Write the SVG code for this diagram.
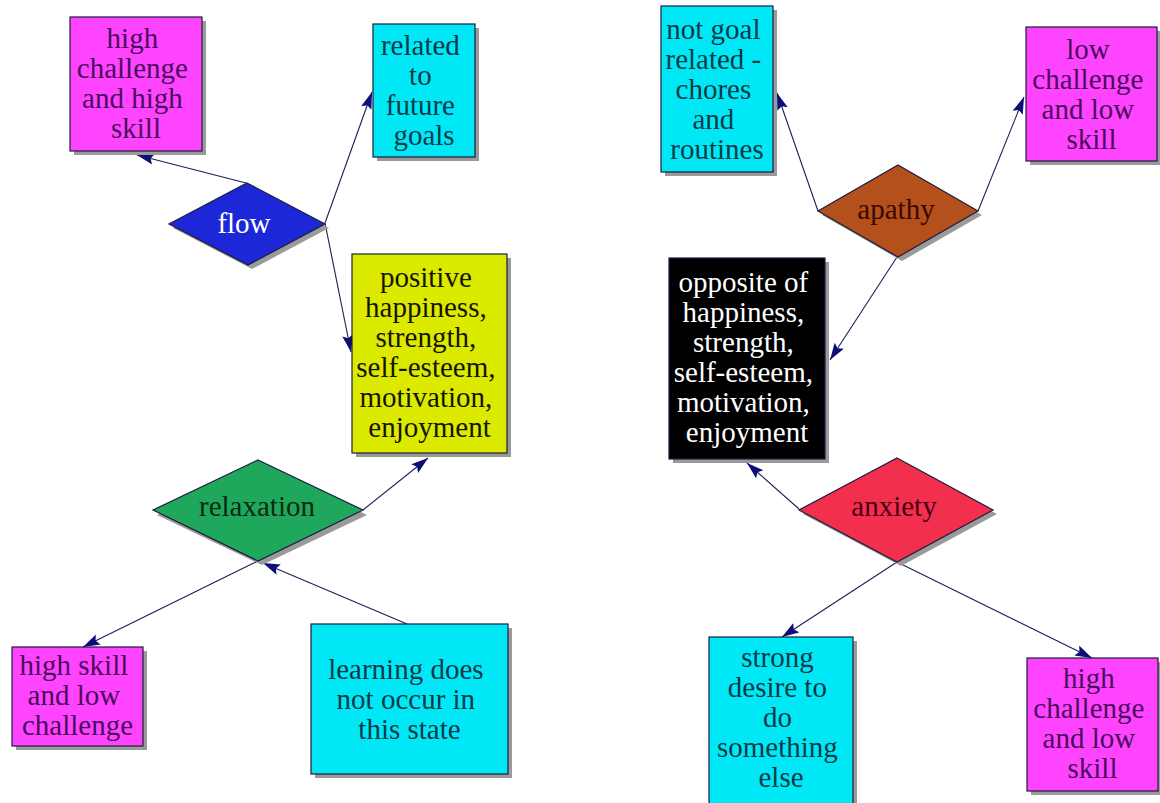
<svg xmlns="http://www.w3.org/2000/svg" width="1160" height="803" viewBox="0 0 1160 803">
  <defs>
    <marker id="arrow" markerUnits="userSpaceOnUse" markerWidth="19" markerHeight="12" refX="17" refY="5.5" orient="auto">
      <path d="M0,0 L17,5.5 L0,11 L3,5.5 z" fill="#0e0e78"/>
    </marker>
    <style>
      .shadow { fill: #9a9a9a; }
      .box { stroke: #1c1c3c; stroke-width: 1.2; }
      text { font-family: 'Liberation Serif', 'DejaVu Serif', serif; font-size: 29px; text-anchor: middle; }
      .magenta { fill: #ff44ff; }
      .cyan { fill: #00e8f6; }
      .yellow { fill: #dcea00; }
      .black { fill: #000000; }
      .t-magenta { fill: #4a0c5c; }
      .t-cyan { fill: #0b3a48; }
      .t-yellow { fill: #161600; }
      .t-white { fill: #ffffff; }
      .edge { stroke: #1e1e5a; stroke-width: 1.1; fill: none; marker-end: url(#arrow); }
    </style>
  </defs>

  <rect width="1160" height="803" fill="#ffffff"/>

  <!-- connectors -->
  <g id="connectors">
    <line class="edge" x1="246" y1="183" x2="137" y2="155"/>
    <line class="edge" x1="325" y1="223" x2="372" y2="92"/>
    <line class="edge" x1="325" y1="223" x2="351" y2="352"/>
    <line class="edge" x1="363" y1="510" x2="428" y2="458"/>
    <line class="edge" x1="258" y1="561" x2="83" y2="647"/>
    <line class="edge" x1="407" y1="624" x2="263" y2="563"/>
    <line class="edge" x1="818" y1="211" x2="777" y2="93"/>
    <line class="edge" x1="978" y1="211" x2="1024" y2="97"/>
    <line class="edge" x1="897" y1="257" x2="830" y2="360"/>
    <line class="edge" x1="799" y1="509" x2="747" y2="463"/>
    <line class="edge" x1="897" y1="562" x2="782" y2="637"/>
    <line class="edge" x1="897" y1="562" x2="1092" y2="658"/>
  </g>

  <!-- left cluster -->
  <g id="high-challenge-high-skill">
    <rect class="shadow" x="74" y="21" width="132" height="134"/>
    <rect class="box magenta" x="70" y="17" width="132" height="134"/>
    <text class="t-magenta" font-family="Liberation Serif, serif">
      <tspan x="136" y="48">high</tspan>
      <tspan x="136" y="78">challenge</tspan>
      <tspan x="136" y="108">and high</tspan>
      <tspan x="136" y="138">skill</tspan>
    </text>
  </g>

  <g id="related-to-future-goals">
    <rect class="shadow" x="377" y="28" width="102" height="133"/>
    <rect class="box cyan" x="373" y="24" width="102" height="133"/>
    <text class="t-cyan" font-family="Liberation Serif, serif">
      <tspan x="424" y="55">related</tspan>
      <tspan x="424" y="85">to</tspan>
      <tspan x="424" y="115">future</tspan>
      <tspan x="424" y="145">goals</tspan>
    </text>
  </g>

  <g id="flow">
    <polygon class="shadow" points="251,187 329,228 252,269 173,228"/>
    <polygon class="box" points="247,183 325,224 248,265 169,224" fill="#1c28d8"/>
    <text class="t-white" font-family="Liberation Serif, serif" x="244" y="233">flow</text>
  </g>

  <g id="positive">
    <rect class="shadow" x="356" y="258" width="155" height="199"/>
    <rect class="box yellow" x="352" y="254" width="155" height="199"/>
    <text class="t-yellow" font-family="Liberation Serif, serif">
      <tspan x="429.5" y="287">positive</tspan>
      <tspan x="429.5" y="317">happiness,</tspan>
      <tspan x="429.5" y="347">strength,</tspan>
      <tspan x="429.5" y="377">self-esteem,</tspan>
      <tspan x="429.5" y="407">motivation,</tspan>
      <tspan x="429.5" y="437">enjoyment</tspan>
    </text>
  </g>

  <g id="relaxation">
    <polygon class="shadow" points="262,464 367,515 262,565 157,515"/>
    <polygon class="box" points="258,460 363,510 258,561 153,510" fill="#1fa85c"/>
    <text font-family="Liberation Serif, serif" x="257" y="516" fill="#0a2a12">relaxation</text>
  </g>

  <g id="high-skill-low-challenge">
    <rect class="shadow" x="16" y="651" width="131" height="99"/>
    <rect class="box magenta" x="12" y="647" width="131" height="99"/>
    <text class="t-magenta" font-family="Liberation Serif, serif">
      <tspan x="77.5" y="675">high skill</tspan>
      <tspan x="77.5" y="705">and low</tspan>
      <tspan x="77.5" y="735">challenge</tspan>
    </text>
  </g>

  <g id="learning-does-not-occur">
    <rect class="shadow" x="315" y="628" width="197" height="150"/>
    <rect class="box cyan" x="311" y="624" width="197" height="150"/>
    <text class="t-cyan" font-family="Liberation Serif, serif">
      <tspan x="409.5" y="679">learning does</tspan>
      <tspan x="409.5" y="709">not occur in</tspan>
      <tspan x="409.5" y="739">this state</tspan>
    </text>
  </g>

  <!-- right cluster -->
  <g id="not-goal-related">
    <rect class="shadow" x="665" y="10" width="112" height="166"/>
    <rect class="box cyan" x="661" y="6" width="112" height="166"/>
    <text class="t-cyan" font-family="Liberation Serif, serif">
      <tspan x="717" y="39">not goal</tspan>
      <tspan x="717" y="69">related -</tspan>
      <tspan x="717" y="99">chores</tspan>
      <tspan x="717" y="129">and</tspan>
      <tspan x="717" y="159">routines</tspan>
    </text>
  </g>

  <g id="low-challenge-low-skill">
    <rect class="shadow" x="1030" y="31" width="131" height="134"/>
    <rect class="box magenta" x="1026" y="27" width="131" height="134"/>
    <text class="t-magenta" font-family="Liberation Serif, serif">
      <tspan x="1091.5" y="59">low</tspan>
      <tspan x="1091.5" y="89">challenge</tspan>
      <tspan x="1091.5" y="119">and low</tspan>
      <tspan x="1091.5" y="149">skill</tspan>
    </text>
  </g>

  <g id="apathy">
    <polygon class="shadow" points="902,169 982,215 902,261 822,215"/>
    <polygon class="box" points="898,165 978,211 898,257 818,211" fill="#b4501c"/>
    <text font-family="Liberation Serif, serif" x="896" y="219" fill="#3a0800">apathy</text>
  </g>

  <g id="opposite">
    <rect class="shadow" x="673" y="262" width="156" height="201"/>
    <rect class="box black" x="669" y="258" width="156" height="201"/>
    <text class="t-white" font-family="Liberation Serif, serif">
      <tspan x="747" y="292">opposite of</tspan>
      <tspan x="747" y="322">happiness,</tspan>
      <tspan x="747" y="352">strength,</tspan>
      <tspan x="747" y="382">self-esteem,</tspan>
      <tspan x="747" y="412">motivation,</tspan>
      <tspan x="747" y="442">enjoyment</tspan>
    </text>
  </g>

  <g id="anxiety">
    <polygon class="shadow" points="901,462 997,514 901,566 803,514"/>
    <polygon class="box" points="897,458 993,510 897,562 799,510" fill="#f2304e"/>
    <text font-family="Liberation Serif, serif" x="894" y="516" fill="#4a0012">anxiety</text>
  </g>

  <g id="strong-desire">
    <rect class="shadow" x="713" y="641" width="144" height="170"/>
    <rect class="box cyan" x="709" y="637" width="144" height="170"/>
    <text class="t-cyan" font-family="Liberation Serif, serif">
      <tspan x="781" y="667">strong</tspan>
      <tspan x="781" y="697">desire to</tspan>
      <tspan x="781" y="727">do</tspan>
      <tspan x="781" y="757">something</tspan>
      <tspan x="781" y="787">else</tspan>
    </text>
  </g>

  <g id="high-challenge-low-skill">
    <rect class="shadow" x="1031" y="662" width="131" height="133"/>
    <rect class="box magenta" x="1027" y="658" width="131" height="133"/>
    <text class="t-magenta" font-family="Liberation Serif, serif">
      <tspan x="1092.5" y="688">high</tspan>
      <tspan x="1092.5" y="718">challenge</tspan>
      <tspan x="1092.5" y="748">and low</tspan>
      <tspan x="1092.5" y="778">skill</tspan>
    </text>
  </g>
</svg>
